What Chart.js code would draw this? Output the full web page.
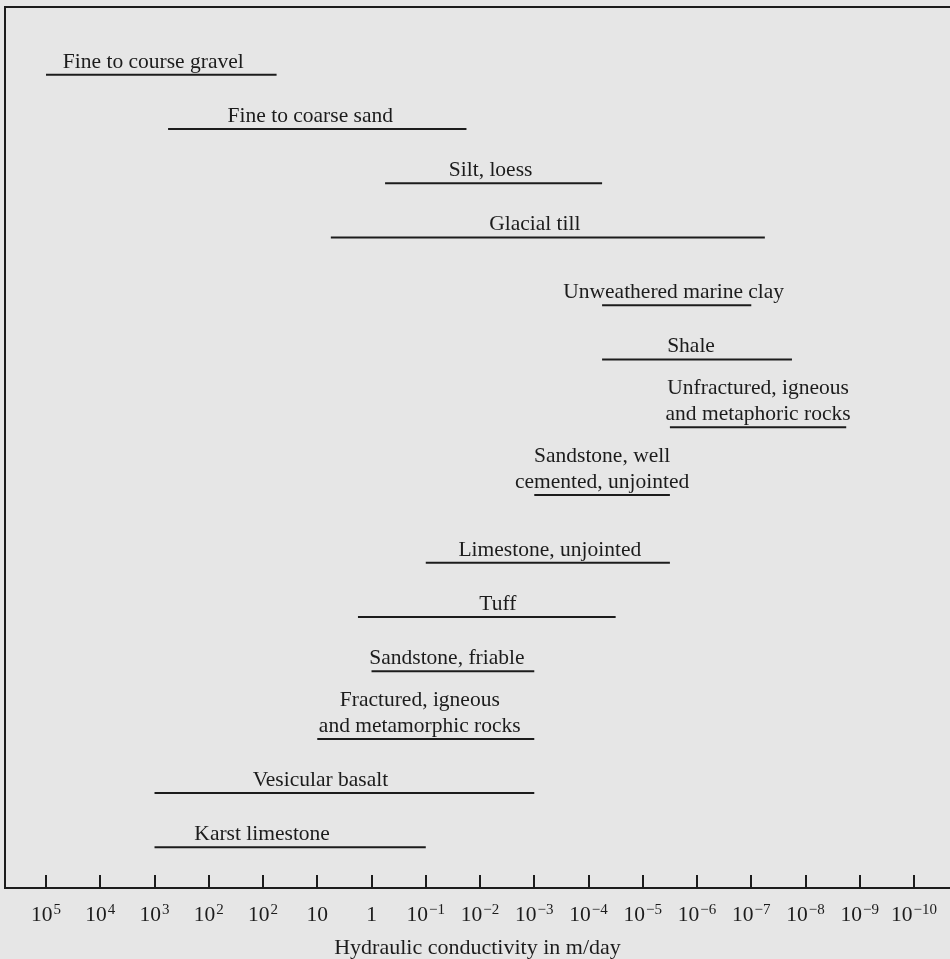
<!DOCTYPE html>
<html>
<head>
<meta charset="utf-8">
<script src="https://cdn.jsdelivr.net/npm/chart.js@4"></script>
<style>
  html, body { margin: 0; padding: 0; background: #e6e6e6; }
  canvas { display: block; }
</style>
</head>
<body>
<canvas id="chart" width="950" height="959"></canvas>
<script>
// axis ticks, left to right (the figure repeats 10^2); '^' marks the exponent
var tickLabels = ['10^5', '10^4', '10^3', '10^2', '10^2', '10', '1', '10^−1', '10^−2', '10^−3',
	'10^−4', '10^−5', '10^−6', '10^−7', '10^−8', '10^−9', '10^−10'];

var materials = [
	'Fine to course gravel',
	'Fine to coarse sand',
	'Silt, loess',
	'Glacial till',
	'Unweathered marine clay',
	'Shale',
	'Unfractured, igneous\nand metaphoric rocks',
	'Sandstone, well\ncemented, unjointed',
	'Limestone, unjointed',
	'Tuff',
	'Sandstone, friable',
	'Fractured, igneous\nand metamorphic rocks',
	'Vesicular basalt',
	'Karst limestone'
];

// range ends, in tick positions along the axis (0 = 10^5 ... 16 = 10^-10)
var rangeFrom = [0, 2.25, 6.25, 5.25, 10.25, 10.25, 11.5, 9, 7, 5.75, 6, 5, 2, 2];
var rangeTo = [4.25, 7.75, 10.25, 13.25, 13, 13.75, 14.75, 11.5, 11.5, 10.5, 9, 9, 9, 7];
// height of each range above the axis
var rowLevel = [15, 14, 13, 12, 10.75, 9.75, 8.5, 7.25, 6, 5, 4, 2.75, 1.75, 0.75];

var ink = '#1c1c1c';
var serif = "'Liberation Serif', 'DejaVu Serif', serif";
var textSize = 21.5;
var supSize = 15;
// label shift from the middle of its line, px
var labelNudge = [-8, -7, -3, -13, -3, -6, 0, 0, 2, 11, -6, -6, -24, -28];

var datasets = materials.map((name, i) => ({
	label: name,
	data: [{ x: rangeFrom[i], y: rowLevel[i] }, { x: rangeTo[i], y: rowLevel[i] }],
	borderColor: ink,
	borderWidth: 2,
	pointRadius: 0,
	fill: false
}));

var framePlugin = {
	id: 'frame',
	afterDraw: (chart) => {
		var ctx = chart.ctx;
		var area = chart.chartArea;
		var x = chart.scales.x;
		ctx.save();
		ctx.strokeStyle = ink;
		ctx.lineWidth = 2;
		ctx.beginPath();
		ctx.moveTo(chart.width, area.top);
		ctx.lineTo(area.left, area.top);
		ctx.lineTo(area.left, area.bottom);
		ctx.lineTo(chart.width, area.bottom);
		x.ticks.forEach(t => {
			var px = Math.round(x.getPixelForValue(t.value));
			ctx.moveTo(px, area.bottom);
			ctx.lineTo(px, area.bottom - 13);
		});
		ctx.stroke();

		// tick labels with raised exponents
		ctx.fillStyle = ink;
		ctx.textBaseline = 'alphabetic';
		ctx.textAlign = 'left';
		var base = area.bottom + 33;
		x.ticks.forEach((t, i) => {
			var parts = tickLabels[i].split('^');
			ctx.font = textSize + 'px ' + serif;
			var wb = ctx.measureText(parts[0]).width;
			var we = 0;
			if (parts[1]) {
				ctx.font = supSize + 'px ' + serif;
				we = ctx.measureText(parts[1]).width + 1;
			}
			var left = x.getPixelForValue(t.value) - (wb + we) / 2;
			ctx.font = textSize + 'px ' + serif;
			ctx.fillText(parts[0], left, base);
			if (parts[1]) {
				ctx.font = supSize + 'px ' + serif;
				ctx.fillText(parts[1], left + wb + 1, base - 7);
			}
		});
		ctx.restore();
	}
};

var labelPlugin = {
	id: 'rangeLabels',
	afterDatasetsDraw: (chart) => {
		var ctx = chart.ctx;
		var x = chart.scales.x;
		var y = chart.scales.y;
		ctx.save();
		ctx.fillStyle = ink;
		ctx.font = textSize + 'px ' + serif;
		ctx.textAlign = 'center';
		ctx.textBaseline = 'alphabetic';
		materials.forEach((name, i) => {
			var cx = (x.getPixelForValue(rangeFrom[i]) + x.getPixelForValue(rangeTo[i])) / 2 + labelNudge[i];
			var base = y.getPixelForValue(rowLevel[i]) - 7;
			var lines = name.split('\n');
			lines.forEach((ln, k) => {
				ctx.fillText(ln, cx, base - (lines.length - 1 - k) * 26);
			});
		});
		ctx.restore();
	}
};

new Chart(document.getElementById('chart').getContext('2d'), {
	type: 'line',
	data: { datasets: datasets },
	plugins: [framePlugin, labelPlugin],
	options: {
		responsive: false,
		animation: false,
		devicePixelRatio: 1,
		layout: { padding: { top: 7, left: 5, right: 0, bottom: 0 } },
		plugins: { legend: { display: false }, tooltip: { enabled: false } },
		scales: {
			x: {
				type: 'linear',
				min: -0.756,
				max: 16.663,
				afterBuildTicks: (scale) => {
					scale.ticks = tickLabels.map((_, i) => ({ value: i }));
				},
				ticks: { display: false },
				grid: { display: false, drawTicks: false },
				border: { display: false },
				title: {
					display: true,
					text: 'Hydraulic conductivity in m/day',
					color: ink,
					font: { family: serif, size: 22, lineHeight: 1 },
					padding: { top: 49, bottom: 0 }
				}
			},
			y: { display: false, min: 0, max: 16.25 }
		}
	}
});
</script>
</body>
</html>
